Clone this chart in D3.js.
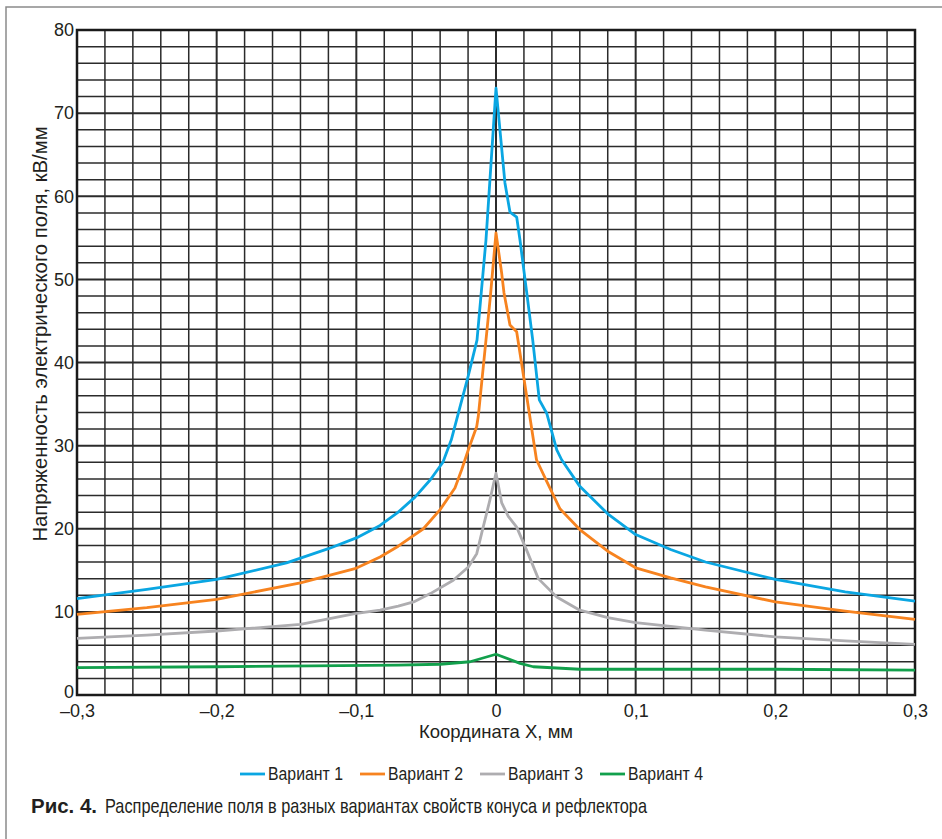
<!DOCTYPE html>
<meta charset="utf-8">
<html>
<head>
<script src="https://d3js.org/d3.v7.min.js"></script>
<style>
  body { margin: 0; background: #fff; }
  text { font-family: "Liberation Sans", Arial, sans-serif; fill: #231f20; }
</style>
</head>
<body>
<script>

// values
const v1_x = [-0.3, -0.25, -0.2, -0.15, -0.12, -0.1, -0.083, -0.07, -0.058, -0.047, -0.038, -0.032, -0.026, -0.020, -0.0136, -0.0072, 0, 0.0064, 0.010, 0.0148, 0.0172, 0.022, 0.0263, 0.031, 0.0363, 0.0435, 0.047, 0.060, 0.08, 0.1, 0.125, 0.15, 0.2, 0.25, 0.3],
      v1_y = [11.6, 12.7, 13.9, 15.9, 17.6, 18.9, 20.4, 22.0, 23.8, 25.9, 28.0, 30.7, 34.5, 38.3, 42.7, 54.7, 73.0, 61.6, 58.1, 57.5, 54.7, 48.4, 42.7, 35.5, 33.9, 29.5, 28.3, 25.1, 21.8, 19.3, 17.5, 16.0, 13.9, 12.4, 11.3];

const v2_x = [-0.3, -0.25, -0.2, -0.14, -0.101, -0.083, -0.07, -0.052, -0.040, -0.0294, -0.0246, -0.0198, -0.0138, -0.0127, -0.0079, -0.004, 0, 0.0041, 0.0057, 0.010, 0.0148, 0.022, 0.029, 0.0363, 0.0458, 0.060, 0.08, 0.1, 0.125, 0.15, 0.2, 0.25, 0.3],
      v2_y = [9.7, 10.5, 11.5, 13.5, 15.2, 16.6, 17.9, 20.0, 22.3, 24.9, 27.1, 29.5, 32.3, 33.5, 41.5, 48.0, 55.6, 50.7, 48.4, 44.5, 43.7, 35.9, 28.3, 25.7, 22.4, 19.9, 17.3, 15.3, 14.1, 13.0, 11.2, 10.1, 9.1];

const v3_x = [-0.3, -0.25, -0.2, -0.14, -0.101, -0.083, -0.07, -0.059, -0.047, -0.0306, -0.0198, -0.0138, -0.0102, -0.0043, 0, 0.0041, 0.0088, 0.0148, 0.022, 0.0303, 0.0435, 0.06, 0.08, 0.1, 0.15, 0.2, 0.25, 0.3],
      v3_y = [6.8, 7.2, 7.7, 8.5, 9.8, 10.2, 10.7, 11.2, 12.2, 13.8, 15.4, 17.0, 19.5, 23.5, 26.7, 23.1, 21.5, 20.2, 17.4, 14.0, 11.8, 10.2, 9.3, 8.7, 7.8, 7.0, 6.5, 6.1];

const v4_x = [-0.3, -0.2, -0.07, -0.04, -0.0186, 0, 0.0172, 0.0267, 0.06, 0.2, 0.3],
      v4_y = [3.3, 3.4, 3.6, 3.7, 4.0, 4.9, 3.8, 3.4, 3.1, 3.1, 3.0];

const series_names = ['Вариант 1', 'Вариант 2', 'Вариант 3', 'Вариант 4'],
      series_colours = ['#0aa6e2', '#f7831f', '#aeadb0', '#12a04c'];

const x_ticks = [-0.3, -0.2, -0.1, 0, 0.1, 0.2, 0.3],
      y_ticks = [0, 10, 20, 30, 40, 50, 60, 70, 80];

const series = [[v1_x, v1_y], [v2_x, v2_y], [v3_x, v3_y], [v4_x, v4_y]]
  .map(([xs, ys], i) => ({ name: series_names[i], colour: series_colours[i], pts: xs.map((x, j) => [x, ys[j]]) }));

const width = 942, height = 839,
      plot = { left: 77, right: 915, top: 30, bottom: 695 };

const svg = d3.select('body').append('svg')
  .attr('width', width)
  .attr('height', height);

// outer frame (top and left only)
svg.append('path')
  .attr('d', `M6,${height}V7H${width}`)
  .attr('fill', 'none')
  .attr('stroke', '#8a8a8a')
  .attr('stroke-width', 1.5);

const x = d3.scaleLinear().domain([-0.3, 0.3]).range([plot.left, plot.right]),
      y = d3.scaleLinear().domain([0, 80]).range([plot.bottom, plot.top]);

// grid
const grid = svg.append('g').attr('class', 'grid');
const minor_x = d3.range(-0.3, 0.3001, 0.02).map(v => +v.toFixed(2)),
      minor_y = d3.range(0, 80.1, 2);

grid.selectAll('line.vx')
  .data(minor_x)
  .enter().append('line')
    .attr('x1', d => x(d)).attr('x2', d => x(d))
    .attr('y1', plot.top).attr('y2', plot.bottom)
    .attr('stroke', '#2b2b2b')
    .attr('stroke-width', d => Math.abs(Math.round(d * 10) - d * 10) < 1e-6 ? 2 : 1.5);

grid.selectAll('line.hy')
  .data(minor_y)
  .enter().append('line')
    .attr('y1', d => y(d)).attr('y2', d => y(d))
    .attr('x1', plot.left).attr('x2', plot.right)
    .attr('stroke', '#2b2b2b')
    .attr('stroke-width', d => d % 10 === 0 ? 2 : 1.5);

svg.append('rect')
  .attr('x', plot.left).attr('y', plot.top)
  .attr('width', plot.right - plot.left).attr('height', plot.bottom - plot.top)
  .attr('fill', 'none')
  .attr('stroke', '#1a1a1a')
  .attr('stroke-width', 2.5);

// axes (labels only)
const fmt = d => d === 0 ? '0' : (d < 0 ? '–' : '') + Math.abs(d).toFixed(1).replace('.', ',');

svg.append('g')
  .attr('transform', `translate(0,${plot.bottom})`)
  .call(d3.axisBottom(x).tickValues(x_ticks).tickSize(0).tickPadding(9).tickFormat(fmt))
  .call(g => g.select('.domain').remove())
  .call(g => g.selectAll('text').attr('font-size', 18).attr('font-family', '"Liberation Sans", Arial, sans-serif').attr('fill', '#231f20'));

svg.append('g')
  .attr('transform', `translate(${plot.left},0)`)
  .call(d3.axisLeft(y).tickValues(y_ticks).tickSize(0).tickPadding(3).tickFormat(d3.format('d')))
  .call(g => g.select('.domain').remove())
  .call(g => g.selectAll('text').attr('font-size', 18).attr('font-family', '"Liberation Sans", Arial, sans-serif').attr('fill', '#231f20'))
  .call(g => g.selectAll('.tick').filter(d => d === 0).select('text').attr('dy', '0.12em'));

svg.append('text')
  .attr('x', (plot.left + plot.right) / 2)
  .attr('y', 738)
  .attr('text-anchor', 'middle')
  .attr('font-size', 18.5)
  .text('Координата X, мм');

svg.append('text')
  .attr('transform', 'translate(47,334) rotate(-90)')
  .attr('text-anchor', 'middle')
  .attr('font-size', 20.3)
  .text('Напряженность электрического поля, кВ/мм');

// curves
const line = d3.line()
  .x(d => x(d[0]))
  .y(d => y(d[1]));

svg.append('g')
  .selectAll('path')
  .data(series)
  .enter().append('path')
    .attr('d', d => line(d.pts))
    .attr('fill', 'none')
    .attr('stroke', d => d.colour)
    .attr('stroke-width', 2.8)
    .attr('stroke-linejoin', 'round');

// legend
const legend = svg.append('g')
  .selectAll('g')
  .data(series)
  .enter().append('g')
    .attr('transform', (d, i) => `translate(${240 + i * 120},774)`);

legend.append('line')
  .attr('x1', 0).attr('x2', 25)
  .attr('stroke', d => d.colour)
  .attr('stroke-width', 2.8);

legend.append('text')
  .attr('x', 28)
  .attr('y', 6)
  .attr('font-size', 17.5)
  .attr('textLength', 75)
  .attr('lengthAdjust', 'spacingAndGlyphs')
  .text(d => d.name);

// caption
svg.append('text')
  .attr('x', 31)
  .attr('y', 813)
  .attr('font-size', 21)
  .attr('font-weight', 'bold')
  .attr('textLength', 66)
  .attr('lengthAdjust', 'spacingAndGlyphs')
  .text('Рис. 4.');

svg.append('text')
  .attr('x', 105)
  .attr('y', 813)
  .attr('font-size', 21)
  .attr('textLength', 542)
  .attr('lengthAdjust', 'spacingAndGlyphs')
  .text('Распределение поля в разных вариантах свойств конуса и рефлектора');

</script>
</body>
</html>
